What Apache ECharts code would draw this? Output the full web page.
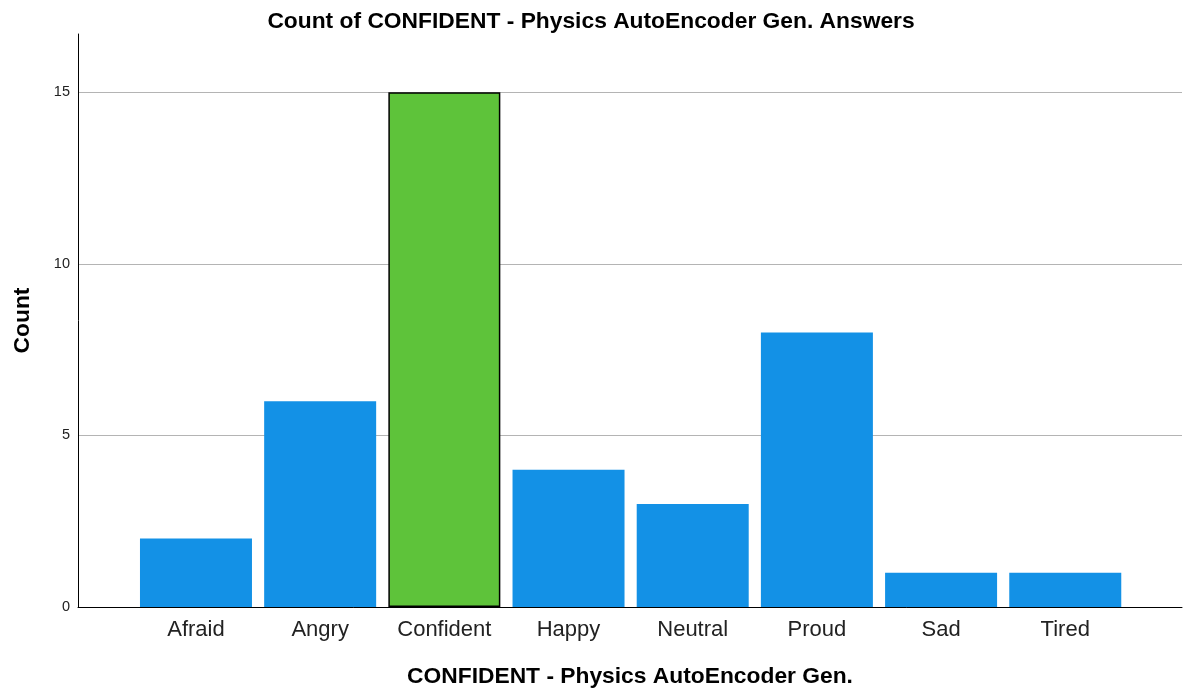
<!DOCTYPE html>
<html>
<head>
<meta charset="utf-8">
<script src="https://cdn.jsdelivr.net/npm/echarts@6/dist/echarts.min.js"></script>
<style>
  html, body { margin: 0; padding: 0; background: #fff; }
  #chart { width: 1187px; height: 693px; }
</style>
</head>
<body>
<div id="chart"></div>
<script>
  // data
  var categories = ['Afraid', 'Angry', 'Confident', 'Happy', 'Neutral', 'Proud', 'Sad', 'Tired'];
  var counts = [2, 6, 15, 4, 3, 8, 1, 1];
  var highlight = 'Confident';

  var barData = [];
  for (var i = 0; i < categories.length; i++) {
    var item = { value: [i, counts[i]] };
    if (categories[i] === highlight) {
      item.itemStyle = { color: '#5ec33a', borderColor: '#000', borderWidth: 1.5 };
    }
    barData.push(item);
  }
  var catPos = categories.map(function (c, i) { return i; });

  var font = 'Liberation Sans, Arial, sans-serif';
  var chart = echarts.init(document.getElementById('chart'));
  chart.setOption({
    animation: false,
    title: {
      text: 'Count of CONFIDENT - Physics AutoEncoder Gen. Answers',
      left: 586, top: 5, textAlign: 'center',
      textStyle: { fontFamily: font, fontSize: 22.8, fontWeight: 'bold', color: '#000' }
    },
    grid: { left: 78, right: 5, top: 34, bottom: 86, outerBoundsMode: 'none' },
    xAxis: {
      type: 'value',
      min: -0.95, max: 7.94,
      name: 'CONFIDENT - Physics AutoEncoder Gen.',
      nameLocation: 'middle', nameGap: 58,
      nameTextStyle: { fontFamily: font, fontSize: 22.8, fontWeight: 'bold', color: '#000' },
      axisLine: { show: true, onZero: false, lineStyle: { color: '#000', width: 1 } },
      axisTick: { show: false },
      splitLine: { show: false },
      axisLabel: {
        customValues: catPos,
        margin: 12,
        fontFamily: font, fontSize: 22, color: '#222',
        formatter: function (v) { return categories[Math.round(v)] || ''; }
      }
    },
    yAxis: {
      type: 'value',
      min: 0, max: 16.7, interval: 5,
      name: 'Count',
      nameLocation: 'middle', nameGap: 44, nameRotate: 90,
      nameTextStyle: { fontFamily: font, fontSize: 22.8, fontWeight: 'bold', color: '#000' },
      axisLine: { show: true, onZero: false, lineStyle: { color: '#000', width: 1 } },
      axisTick: { show: false },
      axisLabel: {
        showMaxLabel: false,
        margin: 8,
        fontFamily: font, fontSize: 14.5, color: '#222'
      },
      splitLine: {
        show: true,
        showMaxLine: false,
        lineStyle: { color: '#b4b4b4', width: 1 }
      }
    },
    series: [{
      type: 'bar',
      barWidth: 112,
      itemStyle: { color: '#1391e6' },
      data: barData
    }]
  });
</script>
</body>
</html>
